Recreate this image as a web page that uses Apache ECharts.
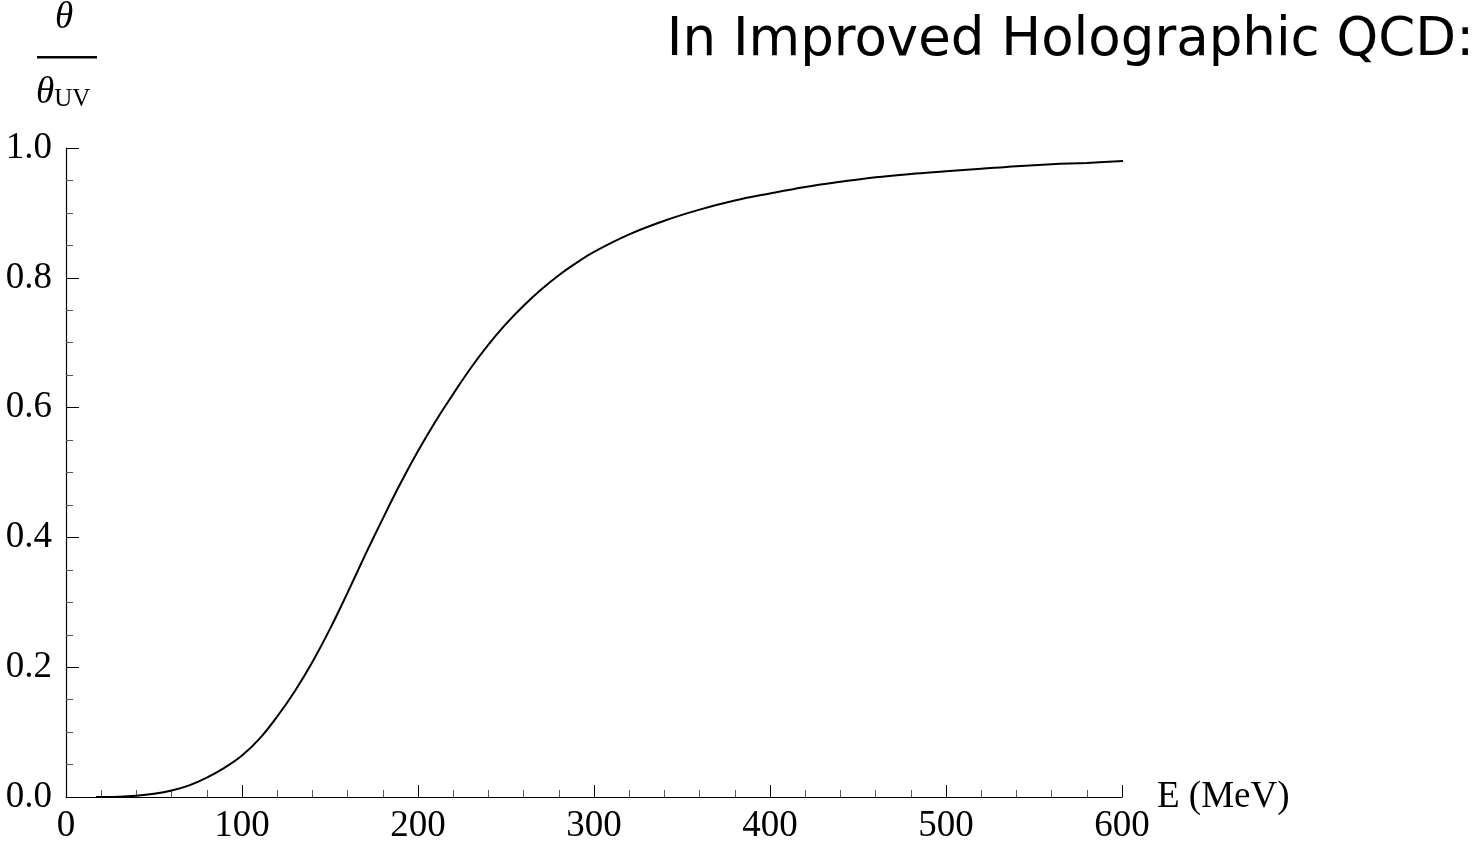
<!DOCTYPE html>
<html>
<head>
<meta charset="utf-8">
<title>θ/θUV vs E</title>
<script src="https://cdn.jsdelivr.net/npm/echarts@6/dist/echarts.min.js"></script>
<style>
  html, body { margin: 0; padding: 0; background: #fff; }
  #chart { width: 1481px; height: 845px; }
</style>
</head>
<body>
<div id="chart"></div>
<script>
// Energy scale (MeV)
const energy = [17, 30, 40, 50, 60, 70, 80, 90, 100, 110, 120, 130, 140, 150, 160, 170, 180, 190, 200,
  210, 220, 230, 240, 250, 260, 270, 280, 290, 300, 320, 340, 360, 380, 400, 420, 440, 460, 480,
  500, 520, 540, 560, 580, 602];
// theta / theta_UV at each energy
const thetaRatio = [0.0, 0.0005, 0.002, 0.005, 0.010, 0.018, 0.030, 0.045, 0.064, 0.090, 0.124, 0.163,
  0.208, 0.259, 0.315, 0.373, 0.429, 0.483, 0.533, 0.579, 0.621, 0.661, 0.697, 0.729, 0.757, 0.782,
  0.804, 0.823, 0.840, 0.867, 0.888, 0.905, 0.919, 0.930, 0.940, 0.948, 0.955, 0.960, 0.964, 0.968,
  0.972, 0.975, 0.977, 0.980];
const xTicks = [0, 100, 200, 300, 400, 500, 600];
const yTicks = [0.0, 0.2, 0.4, 0.6, 0.8, 1.0];

const titleText = 'In Improved Holographic QCD:';
const xName = 'E (MeV)';

const serif = '"Liberation Serif", "DejaVu Serif", serif';
const chart = echarts.init(document.getElementById('chart'));

const points = energy.map((e, i) => [e, thetaRatio[i]]);

chart.setOption({
  animation: false,
  backgroundColor: '#fff',
  title: {
    text: titleText,
    right: 2,
    top: 10,
    textStyle: { fontFamily: '"DejaVu Sans", sans-serif', fontSize: 53, fontWeight: 'normal', color: '#000' }
  },
  grid: { left: 66, right: 359, top: 148, bottom: 45, containLabel: false },
  xAxis: {
    type: 'value',
    min: xTicks[0],
    max: xTicks[xTicks.length - 1],
    interval: 100,
    name: xName,
    nameLocation: 'end',
    nameGap: 35,
    nameTextStyle: { fontFamily: serif, fontSize: 37, color: '#000' },
    axisLine: { show: true, lineStyle: { color: '#000', width: 1.2 } },
    axisTick: { show: true, inside: true, length: 12, lineStyle: { color: '#000', width: 1 } },
    minorTick: { show: true, splitNumber: 5, length: 7, lineStyle: { color: '#555', width: 1 } },
    splitLine: { show: false },
    axisLabel: { fontFamily: serif, fontSize: 37, color: '#000', margin: 11 }
  },
  yAxis: {
    type: 'value',
    min: yTicks[0],
    max: yTicks[yTicks.length - 1],
    interval: 0.2,
    axisLine: { show: true, lineStyle: { color: '#000', width: 1.2 } },
    axisTick: { show: true, inside: true, length: 13, lineStyle: { color: '#000', width: 1 } },
    minorTick: { show: true, splitNumber: 4, length: 7, lineStyle: { color: '#555', width: 1 } },
    splitLine: { show: false },
    axisLabel: {
      fontFamily: serif, fontSize: 37, color: '#000', margin: 14,
      formatter: v => v.toFixed(1)
    }
  },
  series: [{
    type: 'line',
    data: points,
    showSymbol: false,
    smooth: 0.4,
    lineStyle: { color: '#000', width: 2 },
    clip: false
  }],
  graphic: [
    {
      type: 'text', left: 55, top: 0,
      style: { text: 'θ', font: 'italic 37px "Liberation Serif", serif', fill: '#000' }
    },
    {
      type: 'rect', shape: { x: 37, y: 56, width: 60, height: 2.5 },
      style: { fill: '#000' }
    },
    {
      type: 'text', left: 36, top: 75,
      style: {
        text: '{t|θ}{s|UV}',
        rich: {
          t: { font: 'italic 37px "Liberation Serif", serif', fill: '#000', verticalAlign: 'bottom' },
          s: { font: '25px "Liberation Serif", serif', fill: '#000', padding: [16, 0, 0, 0], verticalAlign: 'bottom' }
        }
      }
    }
  ]
});
</script>
</body>
</html>
